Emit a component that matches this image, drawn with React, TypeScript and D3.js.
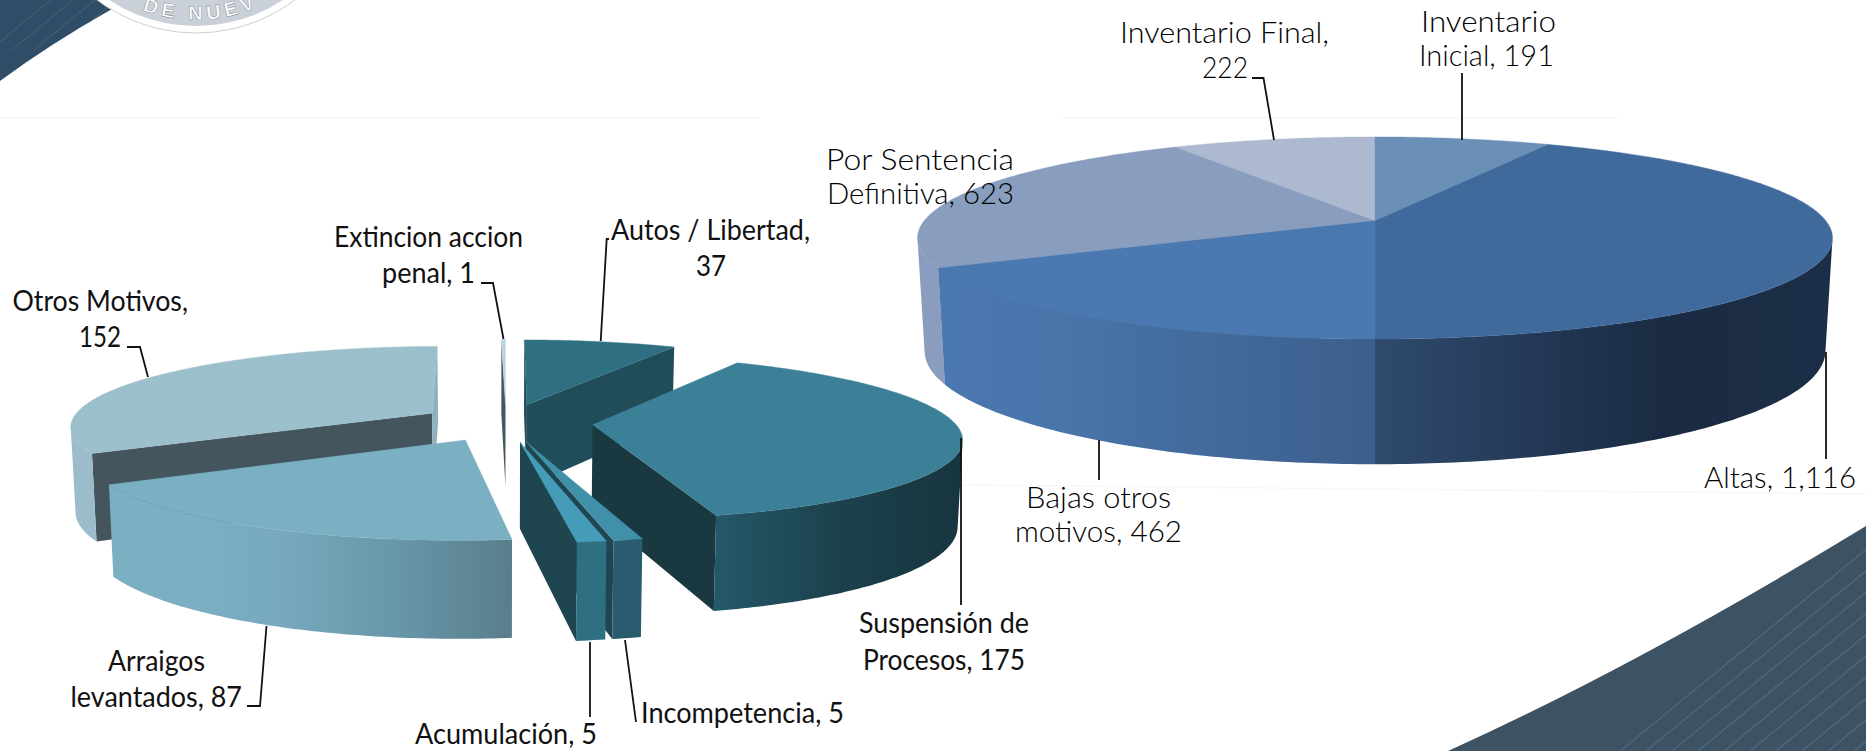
import React from "react";
import * as d3 from "d3";

// ---- data ----
const rightCategories = ["Inventario Inicial", "Altas", "Bajas otros motivos", "Por Sentencia Definitiva", "Inventario Final"];
const rightValues = [191, 1116, 462, 623, 222];
const leftCategories = ["Autos / Libertad", "Suspensión de Procesos", "Incompetencia", "Acumulación", "Arraigos levantados", "Otros Motivos", "Extincion accion penal"];
const leftValues = [37, 175, 5, 5, 87, 152, 1];

// ---- styles ----
type Stop = [number, string];
const rightTop = ["#6a90b8", "#416a9c", "#4a78b0", "#899dbe", "#adb9d1"];
const rightWall: Stop[][] = [
  [[0, "#5a7ca0"]],
  [[0, "#2f4a6e"], [0.64, "#1a2a42"], [1, "#1c2e47"]],
  [[0, "#4a78b0"], [0.3, "#4874a9"], [1, "#3c5f8c"]],
  [[0, "#8a9dbf"]],
  [[0, "#95a3bd"]],
];
const rightCut = ["#4d6c8f", "#2a4666", "#2a4666", "#6f809c", "#8592aa"];
const leftTop = ["#2e6f82", "#3b8097", "#3f90a8", "#459cb8", "#7bafc2", "#9cbfcc", "#bcd4dd"];
const leftWall: Stop[][] = [
  [[0, "#214d5b"]],
  [[0, "#245869"], [0.5, "#1c414d"], [1, "#17353e"]],
  [[0, "#285c6e"]],
  [[0, "#2e6f82"]],
  [[0, "#7bafc2"], [0.25, "#7bafc2"], [0.45, "#75a8bb"], [0.75, "#6594a6"], [1, "#5a7d8c"]],
  [[0, "#9cbccb"]],
  [[0, "#8fa8b2"]],
];
const leftCutStart = ["#1f4a57", "#19383f", "#1f4550", "#1f4550", "#44555e", "#44555e", "#46565f"];
const leftCutEnd = ["#214d5b", "#19383f", "#1f4550", "#1f4550", "#44555e", "#8fb0bc", "#46565f"];

type Geo = { cx: number; cy: number; a: number; b: number; p: number; cyb: number; a2: number; b2: number; e: number };
const rightGeo: Geo = { cx: 1375, cy: 221, a: 451, b: 98.2, p: 0.168, cyb: 332, a2: 444, b2: 110, e: 0 };
const leftGeo: Geo = { cx: 506, cy: 422.5, a: 362, b: 79.4, p: 0.15, cyb: 507, a2: 358, b2: 88.8, e: 0.24 };

// label text lines (value is taken from the arrays above) and placement
const fmt = d3.format(",");
const rightLabelLines = [
  ["Inventario", `Inicial, ${fmt(rightValues[0])}`],
  [`Altas, ${fmt(rightValues[1])}`],
  ["Bajas otros", `motivos, ${fmt(rightValues[2])}`],
  ["Por Sentencia", `Definitiva, ${fmt(rightValues[3])}`],
  ["Inventario Final,", `${fmt(rightValues[4])}`],
];
const rightLabelBoxes = [
  [[1421, 1556, 32], [1419, 1554, 66]],
  [[1704, 1856, 488]],
  [[1026, 1171, 508], [1015, 1182, 542]],
  [[826, 1014, 170], [827, 1014, 204]],
  [[1120, 1329, 43], [1202, 1248, 78]],
];
const rightLeaders = [
  [[1462, 73], [1462, 140]],
  [[1826, 352], [1826, 459]],
  [[1099, 440], [1099, 480]],
  [],
  [[1252, 78], [1263.5, 78], [1274, 140]],
];
const leftLabelLines = [
  ["Autos / Libertad,", `${leftValues[0]}`],
  ["Suspensión de", `Procesos, ${leftValues[1]}`],
  [`Incompetencia, ${leftValues[2]}`],
  [`Acumulación, ${leftValues[3]}`],
  ["Arraigos", `levantados, ${leftValues[4]}`],
  ["Otros Motivos,", `${leftValues[5]}`],
  ["Extincion accion", `penal, ${leftValues[6]}`],
];
const leftLabelBoxes = [
  [[611, 810, 240], [696, 726, 276]],
  [[859, 1029, 633], [863, 1025, 670]],
  [[641, 844, 723]],
  [[415, 597, 744]],
  [[108, 205, 671], [70.5, 242, 707]],
  [[12.5, 188, 311], [79, 121, 347]],
  [[334, 523, 247], [382, 475, 283]],
];
const leftLeaders = [
  [[600.7, 341], [606.7, 239], [609, 239]],
  [[961, 438], [961, 605]],
  [[625, 640], [636, 722]],
  [[590, 642], [590, 717]],
  [[247, 706], [260, 706], [266.5, 626]],
  [[127, 347], [140, 347], [148, 377]],
  [[481, 283], [493, 283], [503.5, 339]],
];

// ---- projection ----
const line = d3.line();
type P = [number, number];
const proj = (g: Geo, u: number, v: number, bottom: boolean): P => {
  const w = 1 - g.p * v;
  return bottom
    ? [g.cx + (g.a2 * u) / w, g.cyb + (g.b2 * v) / w]
    : [g.cx + (g.a * u) / w, g.cy + (g.b * v) / w];
};
const area = (pts: P[]) => d3.polygonArea(pts);

type Built = { topPath: string; startCut?: string; endCut?: string; walls: string[] };
function buildSlice(g: Geo, a0: number, a1: number): Built {
  const m = (a0 + a1) / 2;
  const u0 = g.e * Math.sin(m);
  const v0 = -g.e * Math.cos(m);
  const n = Math.max(2, Math.ceil((a1 - a0) / 0.015));
  const thetas = d3.range(n + 1).map((i) => a0 + ((a1 - a0) * i) / n);
  const uv = thetas.map((t) => [u0 + Math.sin(t), v0 - Math.cos(t)]);
  const top = uv.map(([u, v]) => proj(g, u, v, false));
  const bot = uv.map(([u, v]) => proj(g, u, v, true));
  const apexT = proj(g, u0, v0, false);
  const apexB = proj(g, u0, v0, true);
  const topPath = line([apexT, ...top])! + "Z";
  const s: P[] = [apexT, top[0], bot[0], apexB];
  const e: P[] = [apexT, top[n], bot[n], apexB];
  const res: Built = { topPath, walls: [] };
  if (area(s) > 0) res.startCut = line(s)! + "Z";
  if (area(e) < 0) res.endCut = line(e)! + "Z";
  let run: number[] = [];
  const flush = () => {
    if (run.length > 1) {
      const t = run.map((i) => top[i]);
      const b = run.map((i) => bot[i]).reverse();
      res.walls.push(line([...t, ...b])! + "Z");
    }
    run = [];
  };
  for (let i = 0; i < n; i++) {
    const q: P[] = [top[i], top[i + 1], bot[i + 1], bot[i]];
    if (area(q) > 0) {
      if (!run.length) run.push(i);
      run.push(i + 1);
    } else flush();
  }
  flush();
  return res;
}

const pieGen = d3.pie<number>().sort(null).startAngle(0).endAngle(2 * Math.PI);

function Pie3D({ id, values, geo, tops, walls, cutsS, cutsE, order }: any) {
  const arcs = pieGen(values);
  return (
    <g>
      <defs>
        {walls.map((stops: Stop[], i: number) => (
          <linearGradient key={i} id={`${id}w${i}`} x1="0" x2="1" y1="0" y2="0">
            {stops.map(([o, c], j) => (
              <stop key={j} offset={o} stopColor={c} />
            ))}
          </linearGradient>
        ))}
      </defs>
      {order.map((i: number) => {
        const b = buildSlice(geo, arcs[i].startAngle, arcs[i].endAngle);
        return (
          <g key={i}>
            {b.startCut && <path d={b.startCut} fill={cutsS[i]} />}
            {b.endCut && <path d={b.endCut} fill={cutsE[i]} />}
            {b.walls.map((d, j) => (
              <path key={j} d={d} fill={walls[i].length > 1 ? `url(#${id}w${i})` : walls[i][0][1]} />
            ))}
            <path d={b.topPath} fill={tops[i]} stroke={tops[i]} strokeWidth={0.4} />
          </g>
        );
      })}
    </g>
  );
}

function Labels({ lines, boxes, leaders, family, size, weight, fill }: any) {
  return (
    <g fontFamily={family} fontSize={size} fontWeight={weight} fill={fill}>
      {leaders.map((l: P[], i: number) =>
        l.length ? <path key={i} d={line(l)!} fill="none" stroke="#111" strokeWidth={1.8} /> : null
      )}
      {lines.map((ls: string[], i: number) =>
        ls.map((t, j) => {
          const [x1, x2, y] = boxes[i][j];
          return (
            <text key={`${i}-${j}`} x={x1} y={y} textLength={x2 - x1} lengthAdjust="spacingAndGlyphs">
              {t}
            </text>
          );
        })
      )}
    </g>
  );
}

// ---- decoration ----
const stripeOffsets = d3.range(0, 640, 26);
const cornerOffsets = d3.range(0, 90, 22);
const sealCx = 196, sealCy = -132, sealR = 165, textR = 152, textA0 = 0.36, textA1 = 0.75;

export default function App() {
  const seal = `M${sealCx - textR * Math.sin(textA0)},${sealCy + textR * Math.cos(textA0)} A${textR},${textR} 0 0 0 ${sealCx + textR * Math.sin(textA1)},${sealCy + textR * Math.cos(textA1)}`;
  return (
    <svg width={1866} height={751} viewBox="0 0 1866 751" style={{ position: "absolute", left: 0, top: 0, display: "block", background: "#fff" }}>
      <defs>
        <clipPath id="br"><path d="M1448,751 Q1640,664 1866,526 L1866,751 Z" /></clipPath>
        <clipPath id="tl"><path d="M0,0 L112,0 L112,9 Q50,44 0,81 Z" /></clipPath>
        <path id="sealArc" d={seal} />
      </defs>
      <path d="M0,118H760M1060,118H1620" stroke="#f7f7f7" strokeWidth={1.5} />
      <path d="M960,485L1866,494" stroke="#f8f8f8" strokeWidth={1.5} />
      <g clipPath="url(#tl)">
        <rect x={0} y={0} width={120} height={90} fill="#2f4d66" />
        {cornerOffsets.map((o) => (
          <line key={o} x1={-10 + o} y1={50} x2={70 + o} y2={-16} stroke="#4b6478" strokeWidth={1} />
        ))}
      </g>
      <circle cx={sealCx} cy={sealCy} r={sealR} fill="#fff" stroke="#cfcfcf" strokeWidth={1} />
      <circle cx={sealCx} cy={sealCy} r={sealR - 7} fill="#c9d0d8" />
      <text fontFamily="Liberation Sans" fontWeight="bold" fontSize={20} fill="#fff" letterSpacing={4.5} stroke="#6f7780" strokeWidth={0.4}>
        <textPath href="#sealArc" startOffset={0}>DE NUEV</textPath>
      </text>
      <g clipPath="url(#br)">
        <rect x={1400} y={500} width={466} height={251} fill="#3d5263" />
        {stripeOffsets.map((o) => (
          <line key={o} x1={1620 + o} y1={751} x2={1620 + o + 320} y2={751 - 262} stroke="#4e6579" strokeWidth={1.6} />
        ))}
      </g>
      <Pie3D id="r" values={rightValues} geo={rightGeo} tops={rightTop} walls={rightWall} cutsS={rightCut} cutsE={rightCut} order={[4, 0, 3, 1, 2]} />
      <Pie3D id="l" values={leftValues} geo={leftGeo} tops={leftTop} walls={leftWall} cutsS={leftCutStart} cutsE={leftCutEnd} order={[0, 6, 5, 1, 4, 2, 3]} />
      <Labels lines={rightLabelLines} boxes={rightLabelBoxes} leaders={rightLeaders} family="Lato" size={29} weight={300} fill="#000" />
      <Labels lines={leftLabelLines} boxes={leftLabelBoxes} leaders={leftLeaders} family="Lato" size={28} weight={400} fill="#111" />
    </svg>
  );
}
